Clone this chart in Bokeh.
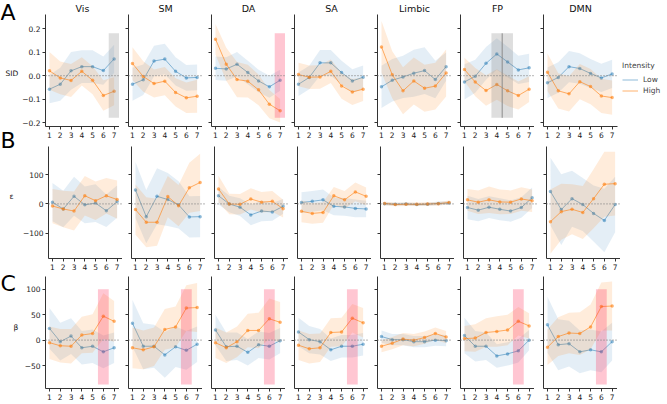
from bokeh.plotting import figure
from bokeh.layouts import row, column
from bokeh.models import (Range1d, FixedTicker, Span, Label, Legend, LegendItem,
                          ColumnDataSource)
from bokeh.embed import file_html
from bokeh.resources import INLINE

# ---------------- data ----------------
NETWORKS = ["Vis", "SM", "DA", "SA", "Limbic", "FP", "DMN"]
STAGES = [1, 2, 3, 4, 5, 6, 7]
ROW_LABELS = ["SID", "ε", "β"]
PANEL_LETTERS = ["A", "B", "C"]
SERIES_NAMES = ["Low", "High"]
LEGEND_TITLE = "Intensity"

SID_LOW = {
    "Vis": [-0.058, -0.037, 0.020, 0.038, 0.038, 0.021, 0.071],
    "SM": [-0.037, -0.018, 0.062, 0.070, 0.018, -0.010, -0.008],
    "DA": [0.031, 0.028, 0.048, 0.013, -0.023, -0.048, -0.020],
    "SA": [-0.037, -0.008, 0.054, 0.054, 0.013, -0.023, -0.007],
    "Limbic": [-0.048, -0.020, -0.006, 0.010, 0.021, -0.017, 0.038],
    "FP": [-0.027, -0.003, 0.052, 0.092, 0.058, 0.024, 0.033],
    "DMN": [-0.031, -0.008, 0.038, 0.030, 0.009, -0.010, 0.007],
}
SID_LOW_CI = {
    "Vis": [0.06, 0.07, 0.08, 0.07, 0.07, 0.06, 0.06],
    "SM": [0.07, 0.065, 0.065, 0.065, 0.06, 0.055, 0.055],
    "DA": [0.05, 0.05, 0.052, 0.05, 0.048, 0.047, 0.045],
    "SA": [0.05, 0.05, 0.055, 0.055, 0.05, 0.05, 0.05],
    "Limbic": [0.09, 0.09, 0.09, 0.10, 0.10, 0.08, 0.06],
    "FP": [0.075, 0.07, 0.07, 0.067, 0.065, 0.06, 0.06],
    "DMN": [0.065, 0.065, 0.067, 0.065, 0.062, 0.06, 0.06],
}
SID_HIGH = {
    "Vis": [0.020, -0.010, -0.021, 0.018, -0.020, -0.085, -0.067],
    "SM": [0.051, -0.004, -0.034, -0.024, -0.072, -0.095, -0.088],
    "DA": [0.155, 0.048, -0.017, -0.024, -0.061, -0.122, -0.150],
    "SA": [0.004, -0.007, -0.006, 0.018, -0.044, -0.070, -0.058],
    "Limbic": [0.122, 0.003, -0.065, -0.023, -0.054, -0.045, 0.011],
    "FP": [0.026, -0.028, -0.064, -0.038, -0.065, -0.085, -0.058],
    "DMN": [0.014, -0.065, -0.078, -0.026, -0.047, -0.087, -0.094],
}
SID_HIGH_CI = {
    "Vis": [0.08, 0.07, 0.07, 0.06, 0.06, 0.065, 0.06],
    "SM": [0.07, 0.065, 0.06, 0.06, 0.06, 0.065, 0.07],
    "DA": [0.065, 0.07, 0.075, 0.07, 0.065, 0.06, 0.05],
    "SA": [0.05, 0.05, 0.05, 0.05, 0.055, 0.055, 0.05],
    "Limbic": [0.11, 0.10, 0.10, 0.10, 0.10, 0.10, 0.10],
    "FP": [0.05, 0.06, 0.065, 0.065, 0.065, 0.06, 0.055],
    "DMN": [0.08, 0.075, 0.075, 0.075, 0.075, 0.073, 0.073],
}

EPS_LOW = {
    "Vis": [6, -17, 26, -3, 3, -23, 8],
    "SM": [47, -43, 26, 15, -3, -44, -43],
    "DA": [28, 0, -11, -37, -24, -27, -8],
    "SA": [5, 9, 14, -8, -10, -15, -17],
    "Limbic": [1, -1, 0, -2, -1, 2, 3],
    "FP": [-12, -21, -11, -18, -24, -12, 21],
    "DMN": [42, -19, 18, -2, -32, -56, -2],
}
EPS_LOW_CI = {
    "Vis": [65, 62, 66, 62, 64, 55, 55],
    "SM": [95, 90, 95, 90, 80, 70, 70],
    "DA": [30, 28, 30, 35, 35, 30, 25],
    "SA": [35, 35, 35, 30, 30, 30, 28],
    "Limbic": [5, 5, 5, 5, 5, 6, 6],
    "FP": [40, 38, 37, 37, 36, 35, 35],
    "DMN": [115, 120, 95, 90, 95, 108, 94],
}
EPS_HIGH = {
    "Vis": [-7, -17, -24, 28, 11, 28, 15],
    "SM": [-19, -62, -62, 25, -6, 55, 73],
    "DA": [51, 0, -1, 17, 6, 9, -16],
    "SA": [-25, -32, -29, 28, 14, 41, 26],
    "Limbic": [2, -2, -1, -1, 0, 1, 5],
    "FP": [14, 6, 14, 7, 6, 17, 11],
    "DMN": [-60, -26, -18, -29, 18, 67, 69],
}
EPS_HIGH_CI = {
    "Vis": [58, 62, 66, 67, 65, 60, 65],
    "SM": [85, 85, 80, 70, 70, 85, 97],
    "DA": [45, 35, 35, 36, 35, 35, 30],
    "SA": [37, 35, 35, 30, 30, 32, 30],
    "Limbic": [6, 6, 6, 6, 6, 6, 7],
    "FP": [37, 40, 45, 42, 40, 40, 38],
    "DMN": [109, 95, 85, 90, 100, 110, 108],
}

BETA_LOW = {
    "Vis": [23, -3, 8, -15, -12, -23, -15],
    "SM": [33, -12, -12, -29, -13, -20, -8],
    "DA": [20, -13, -12, -24, -9, -12, -1],
    "SA": [16, 1, -3, -19, -12, -12, -8],
    "Limbic": [7, 1, 1, -3, -3, 0, -1],
    "FP": [9, -12, -12, -31, -27, -21, 0],
    "DMN": [30, -9, -7, -23, -19, -23, -3],
}
BETA_LOW_CI = {
    "Vis": [40, 37, 35, 33, 33, 32, 30],
    "SM": [46, 45, 42, 45, 40, 38, 35],
    "DA": [30, 28, 27, 26, 26, 26, 25],
    "SA": [28, 27, 25, 22, 22, 22, 22],
    "Limbic": [12, 11, 11, 11, 11, 11, 11],
    "FP": [35, 30, 27, 23, 23, 23, 20],
    "DMN": [55, 50, 45, 42, 40, 40, 37],
}
BETA_HIGH = {
    "Vis": [-5, -11, -12, 10, 13, 47, 37],
    "SM": [-15, -19, -13, 21, 26, 63, 64],
    "DA": [-5, -15, -3, 19, 19, 42, 35],
    "SA": [-10, -17, -15, 15, 16, 43, 34],
    "Limbic": [-12, -6, 2, 0, 5, 13, 6],
    "FP": [3, 4, 15, 17, 20, 37, 28],
    "DMN": [-14, 7, 14, 13, 26, 66, 67],
}
BETA_HIGH_CI = {
    "Vis": [32, 33, 34, 36, 38, 45, 40],
    "SM": [40, 38, 38, 40, 40, 45, 48],
    "DA": [30, 30, 30, 33, 35, 40, 40],
    "SA": [29, 29, 28, 28, 28, 28, 29],
    "Limbic": [12, 12, 12, 12, 12, 12, 12],
    "FP": [25, 27, 28, 30, 30, 28, 25],
    "DMN": [35, 38, 40, 42, 44, 47, 48],
}

ROWS = [
    (SID_LOW, SID_LOW_CI, SID_HIGH, SID_HIGH_CI),
    (EPS_LOW, EPS_LOW_CI, EPS_HIGH, EPS_HIGH_CI),
    (BETA_LOW, BETA_LOW_CI, BETA_HIGH, BETA_HIGH_CI),
]
Y_RANGES = [(-0.217, 0.26), (-185, 195), (-95, 125)]
Y_TICKS = [[-0.2, -0.1, 0.0, 0.1, 0.2], [-100, 0, 100], [-50, 0, 50, 100]]
Y_TICK_LABELS = [["−0.2", "−0.1", "0.0", "0.1", "0.2"],
                 ["−100", "0", "100"],
                 ["−50", "0", "50", "100"]]

# highlighted spans: (row, network, x0, x1, kind)
HIGHLIGHTS = [
    (0, "Vis", 6.5, 7.5, "gray"),
    (0, "DA", 6.5, 7.5, "pink"),
    (0, "FP", 3.5, 5.5, "gray"),
    (2, "Vis", 5.5, 6.5, "pink"),
    (2, "SM", 5.5, 6.5, "pink"),
    (2, "DA", 5.5, 6.5, "pink"),
    (2, "SA", 5.5, 6.5, "pink"),
    (2, "FP", 5.5, 6.5, "pink"),
    (2, "DMN", 5.5, 6.5, "pink"),
]
HIGHLIGHT_Y = {0: (-0.18, 0.18), 2: (-87, 100)}
VLINES = [(0, "FP", 4.5)]

# ---------------- style / layout ----------------
BLUE = "#1f77b4"
ORANGE = "#ff7f0e"
FONT = "DejaVu Sans"
FW, FH = 74, 112
X0, X1 = 0.63, 7.5
AX = "#333333"
GUTTER = 19
LEGEND_W = 49
BORDER_TOP = [13, 0, 0]
BORDER_BOTTOM = [20, 18, 15]
TOTAL_H = sum(BORDER_TOP) + 3 * FH + sum(BORDER_BOTTOM)
# gutter text placements, in page pixels (x from left, y from top)
LETTER_PX = [(0, -1), (0, 127), (0, 270)]
YLABEL_PX = [(5, 73), (9, 196), (13, 327)]


def style_axes(p, first_col, r):
    p.xgrid.visible = False
    p.ygrid.visible = False
    p.outline_line_color = None
    for ax in (p.xaxis[0], p.yaxis[0]):
        ax.axis_line_color = AX
        ax.axis_line_width = 1
        ax.major_tick_line_color = AX
        ax.major_tick_in = 0
        ax.major_tick_out = 3
        ax.minor_tick_line_color = None
        ax.major_label_text_font = FONT
        ax.major_label_text_font_size = "7.5px"
        ax.major_label_text_color = "#222222"
    p.xaxis.ticker = FixedTicker(ticks=STAGES, minor_ticks=[])
    p.xaxis.major_label_standoff = 2
    p.yaxis.ticker = FixedTicker(ticks=Y_TICKS[r], minor_ticks=[])
    if first_col:
        p.yaxis.major_label_overrides = {t: l for t, l in zip(Y_TICKS[r], Y_TICK_LABELS[r])}
        p.yaxis.major_label_standoff = 2
    else:
        p.yaxis.major_label_overrides = {t: "" for t in Y_TICKS[r]}
        p.yaxis.major_label_standoff = 0


def make_panel(r, ci, net):
    ylo, yhi = Y_RANGES[r]
    low, low_ci, high, high_ci = ROWS[r]
    with_legend = (r == 0 and ci == len(NETWORKS) - 1)
    p = figure(frame_width=FW, frame_height=FH,
               x_range=Range1d(X0, X1), y_range=Range1d(ylo, yhi),
               output_backend="svg", toolbar_location=None,
               title=net if r == 0 else None,
               min_border_left=26 if ci == 0 else 9,
               min_border_right=LEGEND_W if with_legend else 0,
               min_border_top=BORDER_TOP[r], min_border_bottom=BORDER_BOTTOM[r],
               background_fill_color="white", border_fill_color="white")
    if r == 0:
        p.title.align = "center"
        p.title.text_font = FONT
        p.title.text_font_size = "9.5px"
        p.title.text_font_style = "normal"
        p.title.text_color = "#111111"
        p.title.standoff = 1
        p.title.offset = 0
    style_axes(p, ci == 0, r)

    line_renderers = []
    for vals, cis, color, band_alpha, line_alpha in (
            (low[net], low_ci[net], BLUE, 0.12, 0.5),
            (high[net], high_ci[net], ORANGE, 0.15, 0.6)):
        src = ColumnDataSource(dict(
            x=STAGES, y=vals,
            lo=[v - c for v, c in zip(vals, cis)],
            hi=[v + c for v, c in zip(vals, cis)]))
        p.varea(x="x", y1="lo", y2="hi", source=src, fill_color=color, fill_alpha=band_alpha)
        lr = p.line(x="x", y="y", source=src, line_color=color, line_alpha=line_alpha,
                    line_width=1.0)
        line_renderers.append(lr)
        p.scatter(x="x", y="y", source=src, size=3.5, fill_color=color, fill_alpha=line_alpha,
                  line_color=None)

    p.add_layout(Span(location=0, dimension="width", line_color="#888888",
                      line_dash="1 2", line_width=1.2))

    for hr, hn, x0, x1, kind in HIGHLIGHTS:
        if hr == r and hn == net:
            b, t = HIGHLIGHT_Y[r]
            if kind == "gray":
                fc, fa = "#808080", 0.26
            else:
                fc, fa = "#ff1a4a", 0.25
            p.quad(left=[x0], right=[x1], bottom=[b], top=[t], fill_color=fc,
                   fill_alpha=fa, line_color=None)
    for vr, vn, xv in VLINES:
        if vr == r and vn == net:
            b, t = HIGHLIGHT_Y[r]
            p.segment(x0=[xv], x1=[xv], y0=[b], y1=[t], line_color="#8c8c8c", line_width=1)

    if with_legend:
        legend = Legend(items=[LegendItem(label=SERIES_NAMES[0], renderers=[line_renderers[0]]),
                               LegendItem(label=SERIES_NAMES[1], renderers=[line_renderers[1]])],
                        title=LEGEND_TITLE, location=(5, 30), orientation="vertical")
        legend.border_line_color = None
        legend.background_fill_alpha = 0
        legend.padding = 0
        legend.margin = 0
        legend.spacing = 0
        legend.glyph_width = 16
        legend.glyph_height = 11
        legend.label_height = 11
        legend.label_standoff = 5
        legend.label_text_font = FONT
        legend.label_text_font_size = "7.5px"
        legend.title_text_font = FONT
        legend.title_text_font_size = "7.5px"
        legend.title_text_font_style = "normal"
        legend.title_standoff = 4
        legend.click_policy = "none"
        p.add_layout(legend, "right")
    return p


def make_gutter():
    h = TOTAL_H
    g = figure(frame_width=GUTTER, frame_height=h, x_range=Range1d(0, GUTTER),
               y_range=Range1d(h, 0), min_border_left=0, min_border_right=0,
               min_border_top=0, min_border_bottom=0, x_axis_location=None,
               y_axis_location=None, outline_line_color=None, toolbar_location=None,
               output_backend="svg")
    g.xgrid.visible = False
    g.ygrid.visible = False
    for r in range(3):
        lx, ly = YLABEL_PX[r]
        g.add_layout(Label(x=lx, y=ly, text=ROW_LABELS[r], text_align="left",
                           text_baseline="middle", text_font=FONT, text_font_size="7.5px",
                           text_color="#111111"))
        x, y = LETTER_PX[r]
        g.add_layout(Label(x=x, y=y, text=PANEL_LETTERS[r], text_align="left",
                           text_baseline="top", text_font=FONT, text_font_size="22px",
                           text_color="#000000"))
    return g


rows = [row(*[make_panel(r, ci, net) for ci, net in enumerate(NETWORKS)]) for r in range(3)]

layout = row(make_gutter(), column(*rows))
open("out.html", "w").write(file_html(layout, INLINE))
